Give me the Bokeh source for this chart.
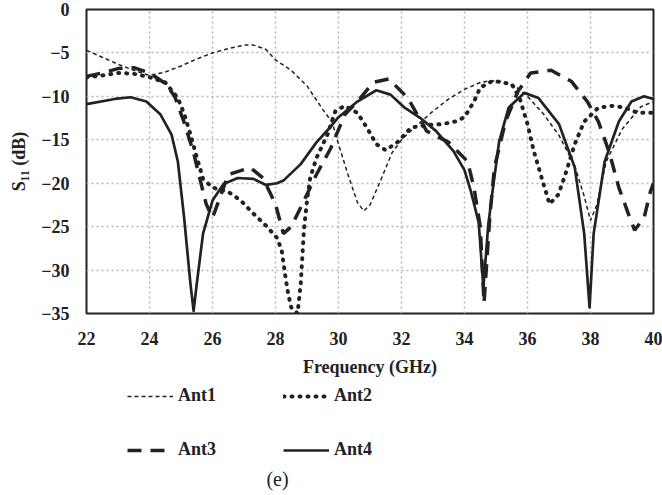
from bokeh.plotting import figure
from bokeh.models import Range1d, FixedTicker, Legend, LegendItem, Label
from bokeh.layouts import column
from bokeh.embed import file_html
from bokeh.resources import INLINE

# ---- data ----
ant1_f = [22.0, 22.5, 23.0, 23.5, 24.0, 24.5, 25.0, 25.5, 26.0, 26.5, 27.0, 27.3, 27.7, 28.0, 28.5,
          29.0, 29.5, 29.8, 30.0, 30.3, 30.6, 30.8, 31.0, 31.3, 31.7, 32.0, 32.5, 33.0, 33.5, 34.0,
          34.5, 34.8, 35.2, 35.6, 36.0, 36.5, 37.0, 37.5, 37.8, 38.0, 38.2, 38.5, 39.0, 39.3, 39.6, 40.0]
ant1_s = [-4.7, -5.5, -6.3, -7.0, -7.6, -7.2, -6.5, -5.7, -5.0, -4.5, -4.1, -4.1, -4.6, -5.8, -7.0,
          -8.8, -11.5, -13.0, -15.5, -19.0, -22.2, -23.2, -22.5, -20.0, -16.5, -15.0, -13.3, -11.7, -10.3, -9.2,
          -8.4, -8.2, -8.3, -8.8, -10.0, -12.0, -14.5, -18.0, -21.5, -24.3, -22.5, -17.5, -13.8, -12.5, -11.2, -10.6]

ant2_f = [22.0, 22.5, 23.0, 23.5, 24.0, 24.5, 24.9, 25.1, 25.3, 25.5, 25.7, 26.0, 26.5, 26.9, 27.3,
          27.7, 28.05, 28.2, 28.3, 28.4, 28.5, 28.7, 28.8, 28.85, 28.9, 29.0, 29.1, 29.3, 29.65, 29.9,
          30.2, 30.6, 30.9, 31.2, 31.5, 31.9, 32.3, 32.8, 33.3, 33.7, 34.0, 34.3, 34.5, 34.9, 35.5,
          35.75, 36.0, 36.2, 36.45, 36.7, 36.98, 37.2, 37.5, 37.8, 38.25, 38.7, 39.1, 39.5, 40.0]
ant2_s = [-7.8, -7.6, -7.3, -7.4, -7.8, -8.4, -10.2, -12.0, -14.4, -17.0, -19.5, -20.5, -21.0, -22.0, -23.5,
          -24.9, -26.3, -27.8, -30.4, -32.7, -34.3, -35.0, -31.6, -28.6, -25.5, -22.0, -19.4, -17.1, -14.4, -11.7,
          -11.1, -11.9, -13.6, -15.5, -16.2, -15.2, -13.6, -13.3, -13.2, -12.9, -12.4, -10.6, -9.0, -8.2, -8.6,
          -10.2, -13.2, -16.3, -19.4, -22.4, -21.3, -19.0, -15.5, -12.9, -11.3, -11.1, -11.3, -11.9, -11.9]

ant3_f = [22.0, 22.5, 23.0, 23.5, 24.0, 24.5, 24.8, 25.1, 25.4, 25.6, 25.8, 26.0, 26.2, 26.5, 27.2,
          27.6, 28.0, 28.25, 28.5, 28.8, 29.3, 29.75, 30.2, 30.6, 31.1, 31.6, 32.2, 32.8, 33.5, 34.1,
          34.3, 34.5, 34.62, 34.8, 34.95, 35.3, 35.7, 36.1, 36.75, 37.4, 37.9, 38.25, 38.6, 38.9, 39.2,
          39.4, 39.7, 39.9, 40.0]
ant3_s = [-7.7, -7.3, -6.8, -6.7, -7.3, -8.5, -10.0, -13.0, -16.5, -19.5, -22.4, -24.0, -22.0, -19.0, -18.2,
          -19.4, -22.4, -25.8, -25.0, -22.8, -19.0, -16.0, -12.1, -10.6, -8.4, -8.0, -10.2, -14.0, -15.3, -17.5,
          -20.5, -25.0, -33.8, -24.0, -18.2, -12.9, -9.4, -7.3, -7.0, -8.3, -10.6, -12.9, -16.5, -20.5, -23.5,
          -25.4, -24.0, -21.0, -20.0]

ant4_f = [22.0, 22.9, 23.4, 23.9, 24.35, 24.7, 24.9, 25.1, 25.3, 25.4, 25.5, 25.7, 26.0, 26.35, 26.8,
          27.3, 27.7, 28.05, 28.25, 28.8, 29.3, 29.75, 30.0, 30.6, 31.2, 31.65, 32.1, 32.6, 33.1, 33.65,
          34.0, 34.2, 34.45, 34.6, 34.75, 34.85, 35.1, 35.4, 35.9, 36.35, 37.0, 37.5, 37.8, 37.97, 38.1,
          38.45, 38.9, 39.3, 39.7, 40.0]
ant4_s = [-10.9, -10.3, -10.1, -10.6, -12.1, -14.4, -17.5, -24.0, -31.6, -34.7, -31.6, -25.8, -22.0, -20.1, -19.4,
          -19.5, -20.2, -20.0, -19.7, -17.8, -15.3, -13.5, -12.4, -10.6, -9.3, -9.8, -11.3, -12.5, -14.0, -16.3,
          -18.5, -20.9, -24.5, -32.0, -25.0, -22.0, -15.2, -11.3, -9.6, -10.2, -13.2, -18.2, -25.8, -34.3, -25.8,
          -17.5, -12.9, -10.6, -10.0, -10.3]

x_ticks = [22, 24, 26, 28, 30, 32, 34, 36, 38, 40]
y_ticks = [0, -5, -10, -15, -20, -25, -30, -35]
series_names = ["Ant1", "Ant2", "Ant3", "Ant4"]
x_label = "Frequency (GHz)"
y_label = "S\u2081\u2081 (dB)"
caption = "(e)"

FONT = "Liberation Serif"
INK = "#222222"

styles = [dict(line_color=INK, line_width=1.5, line_dash="4 3"),
          dict(line_color=INK, line_width=4, line_dash="1 7", line_cap="round", line_join="round"),
          dict(line_color=INK, line_width=3.5, line_dash="14 9"),
          dict(line_color=INK, line_width=2.7, line_join="round")]
series = [(ant1_f, ant1_s), (ant2_f, ant2_s), (ant3_f, ant3_s), (ant4_f, ant4_s)]

# ---------------- main chart ----------------
p = figure(width=662, height=385, output_backend="svg", toolbar_location=None,
           x_range=Range1d(22, 40), y_range=Range1d(-35, 0),
           min_border_left=86, min_border_right=9, min_border_top=9, min_border_bottom=72)
p.background_fill_color = "white"
p.border_fill_color = "white"
p.outline_line_color = INK
p.outline_line_width = 2

for ax in (p.xaxis, p.yaxis):
    ax.axis_line_color = None
    ax.major_tick_line_color = None
    ax.minor_tick_line_color = None
    ax.major_tick_out = 0
    ax.major_tick_in = 0
    ax.major_label_text_font = FONT
    ax.major_label_text_font_style = "bold"
    ax.major_label_text_font_size = "18px"
    ax.major_label_text_color = INK
    ax.axis_label_text_font = FONT
    ax.axis_label_text_font_style = "bold"
    ax.axis_label_text_font_size = "18px"
    ax.axis_label_text_color = INK

p.xaxis.ticker = FixedTicker(ticks=x_ticks)
p.yaxis.ticker = FixedTicker(ticks=y_ticks)
p.xaxis.major_label_standoff = 18
p.yaxis.major_label_standoff = 17
p.xaxis.axis_label = x_label
p.yaxis.axis_label = y_label
p.xaxis.axis_label_standoff = 9
p.yaxis.axis_label_standoff = 9

for g in (p.xgrid, p.ygrid):
    g.grid_line_color = "#b5b5b5"
    g.grid_line_width = 1.5
    g.grid_line_dash = "2 3"
p.xgrid.ticker = FixedTicker(ticks=x_ticks)
p.ygrid.ticker = FixedTicker(ticks=y_ticks)

for (fx, sy), st in zip(series, styles):
    p.line(fx, sy, **st)

# ---------------- legend + caption strip (frame aligned with the chart's frame) ----------------
q = figure(width=662, height=110, output_backend="svg", toolbar_location=None,
           x_range=Range1d(0, 1), y_range=Range1d(0, 1),
           x_axis_type=None, y_axis_type=None,
           min_border_left=0, min_border_right=0, min_border_top=0, min_border_bottom=0)
q.outline_line_color = None
q.xgrid.visible = False
q.ygrid.visible = False
q.background_fill_color = "white"
q.border_fill_color = "white"

# same series drawn here only as legend sources; they fall outside this strip's range
proxies = [q.line(fx, sy, **st) for (fx, sy), st in zip(series, styles)]
order = [0, 2, 1, 3]  # column-major fill -> rows: Ant1 Ant2 / Ant3 Ant4
legend = Legend(items=[LegendItem(label=series_names[i], renderers=[proxies[i]]) for i in order],
                ncols=2, location=(41, 35),
                padding=0, margin=0, spacing=33, glyph_width=46, glyph_height=20,
                label_height=20, label_width=72, label_standoff=5,
                background_fill_alpha=0, border_line_color=None,
                label_text_font=FONT, label_text_font_style="bold",
                label_text_font_size="18px", label_text_color=INK)
q.add_layout(legend)

q.add_layout(Label(x=191, y=17, x_units="screen", y_units="screen", text=caption,
                   text_align="center", text_baseline="middle", text_font=FONT,
                   text_font_size="20px", text_color=INK))

layout = column(p, q, spacing=0)
open("out.html", "w").write(file_html(layout, INLINE))
